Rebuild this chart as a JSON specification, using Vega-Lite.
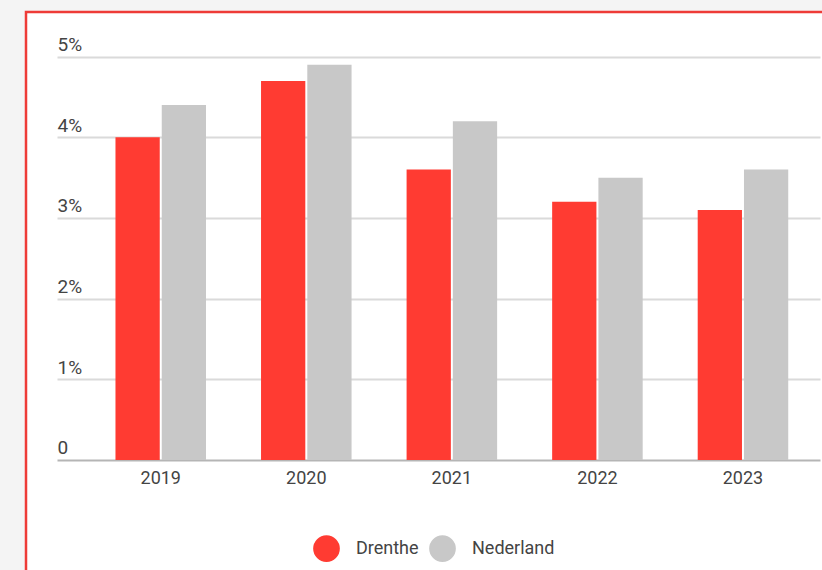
{
  "$schema": "https://vega.github.io/schema/vega-lite/v6.json",
  "width": 810,
  "height": 575,
  "autosize": {"type": "none"},
  "padding": {"left": 26, "top": 12, "right": 0, "bottom": 0},
  "background": "#f4f4f4",
  "config": {
    "view": {"fill": "#ffffff", "stroke": "#ee3b37", "strokeWidth": 2.5},
    "font": "Roboto",
    "axis": {"labelFont": "Roboto", "labelColor": "#444444", "labelFontSize": 18}
  },
  "data": {
    "values": [
      {"jaar": "2019", "regio": "Drenthe", "percentage": 4.0},
      {"jaar": "2019", "regio": "Nederland", "percentage": 4.4},
      {"jaar": "2020", "regio": "Drenthe", "percentage": 4.7},
      {"jaar": "2020", "regio": "Nederland", "percentage": 4.9},
      {"jaar": "2021", "regio": "Drenthe", "percentage": 3.6},
      {"jaar": "2021", "regio": "Nederland", "percentage": 4.2},
      {"jaar": "2022", "regio": "Drenthe", "percentage": 3.2},
      {"jaar": "2022", "regio": "Nederland", "percentage": 3.5},
      {"jaar": "2023", "regio": "Drenthe", "percentage": 3.1},
      {"jaar": "2023", "regio": "Nederland", "percentage": 3.6}
    ]
  },
  "mark": {"type": "bar"},
  "encoding": {
    "x": {
      "field": "jaar",
      "type": "nominal",
      "scale": {"paddingInner": 0.378, "paddingOuter": 0.4714, "align": 0.652},
      "axis": {
        "orient": "bottom",
        "offset": -127,
        "domain": false,
        "ticks": false,
        "grid": false,
        "labelAngle": 0,
        "labelPadding": 9,
        "title": null
      }
    },
    "xOffset": {
      "field": "regio",
      "type": "nominal",
      "sort": ["Drenthe", "Nederland"],
      "scale": {"paddingInner": 0.043, "paddingOuter": 0}
    },
    "y": {
      "field": "percentage",
      "type": "quantitative",
      "stack": null,
      "scale": {"domain": [-1.575, 5.554], "nice": false, "zero": false},
      "axis": {
        "orient": "left",
        "offset": -31,
        "values": [0, 1, 2, 3, 4, 5],
        "domain": false,
        "grid": false,
        "ticks": true,
        "tickSize": -763,
        "tickWidth": 2,
        "tickColor": {"condition": {"test": "datum.value === 0", "value": "#b5b5b5"}, "value": "#dadada"},
        "labelAlign": "left",
        "labelBaseline": "alphabetic",
        "labelPadding": 763,
        "labelOffset": -6,
        "labelFontSize": 19,
        "labelExpr": "datum.value == 0 ? '0' : datum.value + '%'",
        "title": null
      }
    },
    "color": {
      "field": "regio",
      "type": "nominal",
      "scale": {"domain": ["Drenthe", "Nederland"], "range": ["#ff3b32", "#c8c8c8"]},
      "legend": {
        "orient": "none",
        "legendX": 287,
        "legendY": 523,
        "direction": "horizontal",
        "title": null,
        "symbolType": "circle",
        "symbolSize": 713,
        "symbolStrokeWidth": 0,
        "symbolOpacity": 1,
        "labelFont": "Roboto",
        "labelFontSize": 18,
        "labelColor": "#444444",
        "labelOffset": 16,
        "columnPadding": 10
      }
    }
  }
}
